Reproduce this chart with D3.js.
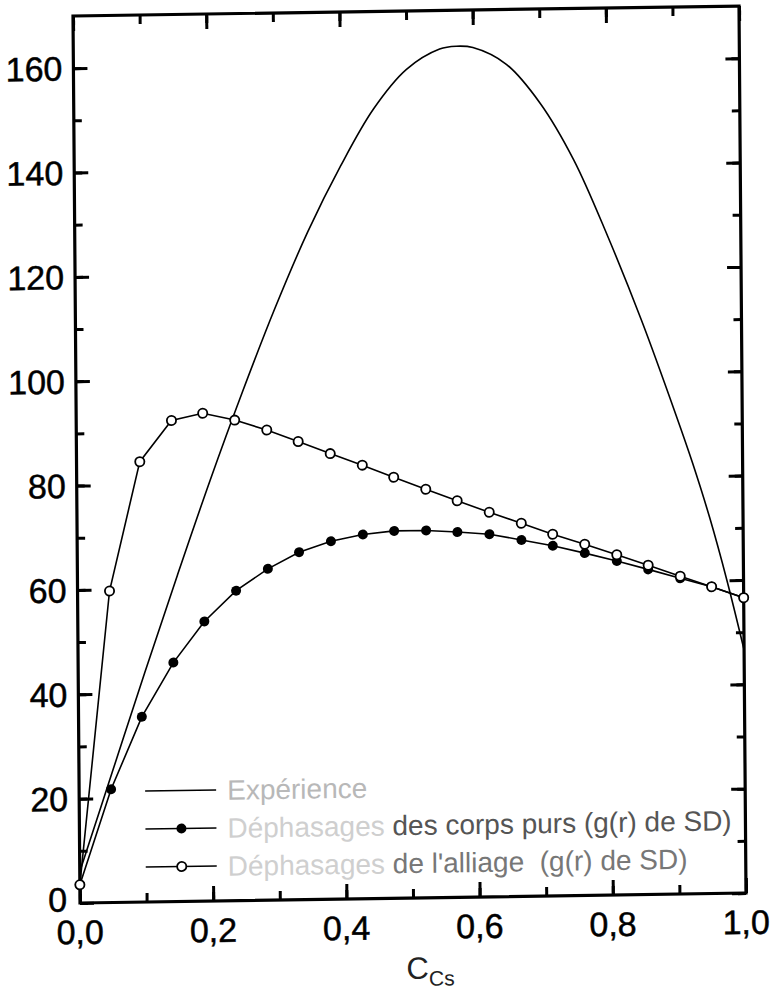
<!DOCTYPE html>
<html><head><meta charset="utf-8">
<script src="https://cdn.jsdelivr.net/npm/d3@7/dist/d3.min.js"></script>
<style>
html,body{margin:0;padding:0;background:#fff;}
svg{display:block;}
text{font-family:"Liberation Sans",Arial,sans-serif;}
</style></head>
<body>
<svg id="chart" width="776" height="989"></svg>
<script>
// ---- data ----
const concX = [0, 0.048, 0.095, 0.143, 0.19, 0.238, 0.286, 0.333, 0.381, 0.429, 0.476, 0.524, 0.571, 0.619, 0.667, 0.714, 0.762, 0.81, 0.857, 0.905, 0.952, 1.0];
const alliageY = [3.5, 59.7, 84.4, 92.2, 93.5, 92.1, 90.1, 87.8, 85.4, 83.1, 80.7, 78.3, 76.0, 73.7, 71.5, 69.3, 67.3, 65.2, 63.1, 60.9, 58.8, 56.6];
const corpsPursY = [3.5, 21.7, 35.5, 45.8, 53.6, 59.4, 63.5, 66.6, 68.6, 69.8, 70.4, 70.4, 70.0, 69.5, 68.3, 67.1, 65.6, 64.0, 62.3, 60.5, 58.8, 56.6];
const expX = [0, 0.05, 0.10, 0.15, 0.20, 0.25, 0.30, 0.35, 0.40, 0.45, 0.50, 0.55, 0.575, 0.60, 0.65, 0.70, 0.75, 0.80, 0.85, 0.90, 0.925, 0.95, 0.975, 1.0];
const expY = [6, 25, 44, 62.5, 80.5, 97.5, 113.5, 128, 140.5, 151.3, 158.8, 162.6, 163.1, 162.8, 159.5, 152, 141, 126.3, 110, 92, 82.5, 72, 60, 46.6];
const xTicks = [0, 0.2, 0.4, 0.6, 0.8, 1.0];
const xTickLabels = ["0,0", "0,2", "0,4", "0,6", "0,8", "1,0"];
const yTicks = [0, 20, 40, 60, 80, 100, 120, 140, 160];
const legendLabels = ["Expérience", "Déphasages des corps purs (g(r) de SD)", "Déphasages de l'alliage  (g(r) de SD)"];

// ---- layout ----
const W = 666, H = 887;
const svg = d3.select("#chart");
// slight skew of the scanned figure
const g = svg.append("g").attr("transform", "matrix(1,-0.015,0.0079,1,73,16)");

const x = d3.scaleLinear().domain([0, 1]).range([0, W]);
const y = d3.scaleLinear().domain([0, 170]).range([H, 0]);

const xMinor = d3.range(0, 1.0001, 0.1);
const yMinor = d3.range(0, 170.001, 10).filter(v => v < 170);

function tickAxis(axisGen, tr) {
  const a = g.append("g").attr("transform", tr).call(axisGen);
  a.select(".domain").remove();
  a.selectAll("line").attr("stroke", "#000").attr("stroke-width", 3);
  a.selectAll("text").remove();
  return a;
}
// ticks inward on all four sides
tickAxis(d3.axisBottom(x).tickValues(xTicks).tickSize(-15), `translate(0,${H})`);
tickAxis(d3.axisBottom(x).tickValues(xMinor).tickSize(-9), `translate(0,${H})`);
tickAxis(d3.axisTop(x).tickValues(xTicks).tickSize(-15), `translate(0,0)`);
tickAxis(d3.axisTop(x).tickValues(xMinor).tickSize(-9), `translate(0,0)`);
tickAxis(d3.axisLeft(y).tickValues(yTicks).tickSize(-14), `translate(0,0)`);
tickAxis(d3.axisLeft(y).tickValues(yMinor).tickSize(-8), `translate(0,0)`);
tickAxis(d3.axisRight(y).tickValues(yTicks).tickSize(-14), `translate(${W},0)`);
tickAxis(d3.axisRight(y).tickValues(yMinor).tickSize(-8), `translate(${W},0)`);

// frame
g.append("rect").attr("x", 0).attr("y", 0).attr("width", W).attr("height", H)
  .attr("fill", "none").attr("stroke", "#000").attr("stroke-width", 3.2);

// tick labels
g.selectAll(".ylab").data(yTicks).join("text")
  .attr("x", d => d === 0 ? -13 : -11).attr("y", d => y(d) - (d === 0 ? 4 : 0)).attr("dy", "0.36em")
  .attr("text-anchor", "end").attr("font-size", 34).attr("fill", "#000")
  .attr("stroke", "#000").attr("stroke-width", 0.5)
  .text(d => d);
g.selectAll(".xlab").data(xTicks).join("text")
  .attr("x", d => x(d)).attr("y", H + 41)
  .attr("text-anchor", "middle").attr("font-size", 34).attr("fill", "#000")
  .attr("stroke", "#000").attr("stroke-width", 0.5)
  .text((d, i) => xTickLabels[i]);

// axis title
const tt = g.append("text").attr("x", 350).attr("y", H + 81).attr("text-anchor", "middle").attr("fill", "#222");
tt.append("tspan").attr("font-size", 31).text("C");
tt.append("tspan").attr("font-size", 21).attr("dy", 7).text("Cs");

// series
const plot = g.append("g");
const lineExp = d3.line().x((d, i) => x(expX[i])).y(d => y(d)).curve(d3.curveCatmullRom.alpha(0.5));
plot.append("path").datum(expY).attr("d", lineExp)
  .attr("fill", "none").attr("stroke", "#000").attr("stroke-width", 1.6);

const lineS = d3.line().x((d, i) => x(concX[i])).y(d => y(d));
plot.append("path").datum(corpsPursY).attr("d", lineS)
  .attr("fill", "none").attr("stroke", "#000").attr("stroke-width", 1.6);
plot.append("path").datum(alliageY).attr("d", lineS)
  .attr("fill", "none").attr("stroke", "#000").attr("stroke-width", 1.6);

plot.selectAll(".fd").data(corpsPursY).join("circle")
  .attr("cx", (d, i) => x(concX[i])).attr("cy", d => y(d)).attr("r", 5)
  .attr("fill", "#000");
plot.selectAll(".od").data(alliageY).join("circle")
  .attr("cx", (d, i) => x(concX[i])).attr("cy", d => y(d)).attr("r", 4.6)
  .attr("fill", "#fff").attr("stroke", "#000").attr("stroke-width", 1.8);

// legend
const lg = g.append("g").attr("transform", "translate(66,776)");
const rowH = 38;
legendLabels.forEach((lab, i) => {
  const r = lg.append("g").attr("transform", `translate(0,${i * rowH})`);
  r.append("line").attr("x1", 0).attr("x2", 71).attr("y1", 0).attr("y2", 0)
    .attr("stroke", "#000").attr("stroke-width", 1.6);
  if (i === 1) r.append("circle").attr("cx", 36).attr("cy", 0).attr("r", 5).attr("fill", "#000");
  if (i === 2) r.append("circle").attr("cx", 36).attr("cy", 0).attr("r", 4.6)
    .attr("fill", "#fff").attr("stroke", "#000").attr("stroke-width", 1.8);
  const t = r.append("text").attr("x", 82).attr("y", 10).attr("font-size", 28)
    .attr("xml:space", "preserve").style("white-space", "pre");
  if (i === 0) {
    t.append("tspan").attr("fill", "#b8b8b8").text(lab);
  } else {
    const first = lab.slice(0, 10);
    const rest = lab.slice(10);
    t.append("tspan").attr("fill", "#cfcfcf").text(first);
    t.append("tspan").attr("fill", i === 1 ? "#555" : "#777").text(rest);
  }
});
</script>
</body></html>
